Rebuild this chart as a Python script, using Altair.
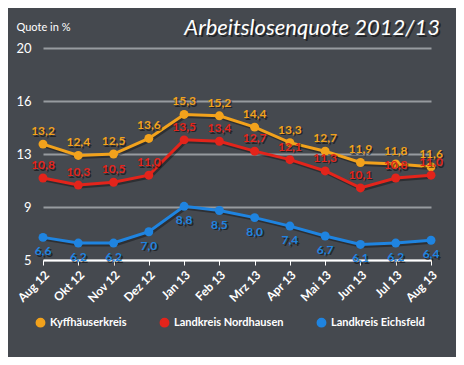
import altair as alt
import pandas as pd

months = ["Aug 12", "Okt 12", "Nov 12", "Dez 12", "Jan 13", "Feb 13",
          "Mrz 13", "Apr 13", "Mai 13", "Jun 13", "Jul 13", "Aug 13"]
series_names = ["Kyffhäuserkreis", "Landkreis Nordhausen", "Landkreis Eichsfeld"]
kyff = [13.2, 12.4, 12.5, 13.6, 15.3, 15.2, 14.4, 13.3, 12.7, 11.9, 11.8, 11.6]
nord = [10.8, 10.3, 10.5, 11.0, 13.5, 13.4, 12.7, 12.1, 11.3, 10.1, 10.8, 11.0]
eich = [6.6, 6.2, 6.2, 7.0, 8.8, 8.5, 8.0, 7.4, 6.7, 6.1, 6.2, 6.4]
colors = ["#f2a21c", "#e3241b", "#1f84e0"]
y_ticks = [5, 8.75, 12.5, 16.25, 20]
title_text = ["Arbeitslosenquote 2012/13"]

rows = []
for name, vals in zip(series_names, [kyff, nord, eich]):
    for m, v in zip(months, vals):
        rows.append({"Monat": m, "Quote": v, "Kreis": name,
                     "Label": f"{v:.1f}".replace(".", ",")})
df = pd.DataFrame(rows)

FONT = "Lato"
x_enc = alt.X("Monat:N", sort=months, scale=alt.Scale(type="point", padding=0),
              axis=alt.Axis(title=None, labelAngle=-45, labelColor="white", labelFontSize=12,
                            labelFont=FONT, labelFontWeight="bold", domainColor="white",
                            domainWidth=2, tickColor="white", tickSize=5, tickWidth=1,
                            grid=False, labelPadding=4))
y_enc = alt.Y("Quote:Q", scale=alt.Scale(domain=[5, 20], nice=False, zero=False),
              axis=alt.Axis(values=y_ticks, labelExpr="round(datum.value)", title="Quote in %",
                            titleAngle=0, titleX=-27, titleY=-21, titleAlign="left",
                            titleBaseline="middle",
                            titleColor="white", titleFontSize=11, titleFont=FONT,
                            titleFontWeight="normal",
                            labelColor="white", labelFontSize=13, labelFont=FONT,
                            labelPadding=12, ticks=False, domain=False,
                            gridColor="#a0a4a9", gridWidth=2, gridOpacity=0.9))
color_enc = alt.Color("Kreis:N", sort=series_names,
                      scale=alt.Scale(domain=series_names, range=colors),
                      legend=alt.Legend(title=None, orient="none", direction="horizontal",
                                        legendX=-8, legendY=269, symbolType="circle",
                                        symbolSize=70, labelColor="white", labelFontSize=11,
                                        labelFont=FONT, labelFontWeight="bold",
                                        columnPadding=30, symbolOpacity=1))

base = alt.Chart(df)
line_shadow = base.mark_line(strokeWidth=3, color="black", opacity=0.35, xOffset=1.5, yOffset=2).encode(
    x=x_enc, y=y_enc, detail="Kreis:N")
lines = base.mark_line(strokeWidth=3).encode(x=x_enc, y=y_enc, color=color_enc)
points = base.mark_circle(size=80, opacity=1).encode(x=x_enc, y=y_enc, color=color_enc)

above = base.transform_filter(alt.datum.Kreis != "Landkreis Eichsfeld")
below = base.transform_filter(alt.datum.Kreis == "Landkreis Eichsfeld")
txt_kw = dict(fontSize=12, font=FONT, fontWeight="bold")
label_color = alt.Color("Kreis:N", scale=alt.Scale(domain=series_names, range=colors), legend=None)
shadow_above = above.mark_text(dy=-13 + 1.5, dx=1.5, color="black", opacity=0.5, **txt_kw).encode(
    x=x_enc, y=y_enc, text="Label:N")
text_above = above.mark_text(dy=-13, **txt_kw).encode(
    x=x_enc, y=y_enc, text="Label:N", color=label_color)
shadow_below = below.mark_text(dy=14 + 1.5, dx=1.5, color="black", opacity=0.5, **txt_kw).encode(
    x=x_enc, y=y_enc, text="Label:N")
text_below = below.mark_text(dy=14, **txt_kw).encode(
    x=x_enc, y=y_enc, text="Label:N", color=label_color)

tdf = pd.DataFrame({"t": title_text})
title_kw = dict(align="right", baseline="alphabetic", fontSize=22, font=FONT, fontStyle="italic")
title_shadow = alt.Chart(tdf).mark_text(color="black", opacity=0.5, **title_kw).encode(
    x=alt.value(399), y=alt.value(-11), text="t:N")
title_main = alt.Chart(tdf).mark_text(color="white", **title_kw).encode(
    x=alt.value(397), y=alt.value(-13), text="t:N")

chart = alt.layer(line_shadow, lines, points, shadow_above, text_above, shadow_below, text_below,
                  title_shadow, title_main).properties(
    width=388, height=212,
    autosize=alt.AutoSizeParams(type="none"),
    padding={"left": 35, "top": 40, "right": 25, "bottom": 97},
    background="#45494f",
).configure_view(strokeWidth=0)

chart.save("out.html", embed_options={"renderer": "svg", "actions": False})
